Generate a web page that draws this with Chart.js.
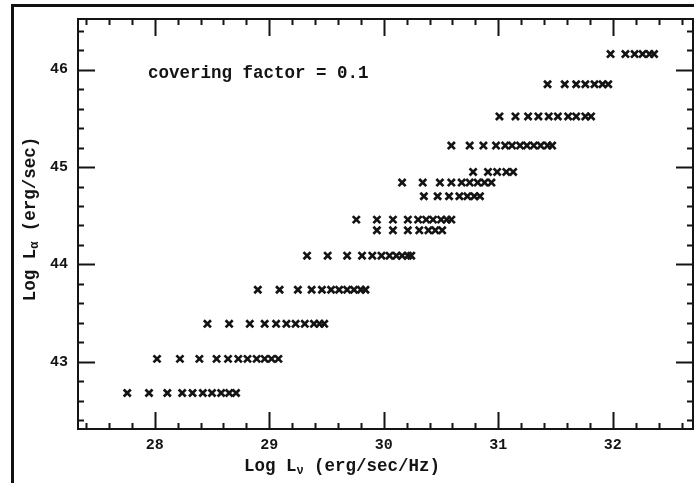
<!DOCTYPE html>
<html>
<head>
<meta charset="utf-8">
<script src="https://cdn.jsdelivr.net/npm/chart.js@4"></script>
<style>
  html, body { margin:0; padding:0; background:#fff; }
  #wrap { width:694px; height:483px; }
</style>
</head>
<body>
<div id="wrap"><canvas id="lumChart" width="694" height="483"></canvas></div>
<script>
/* Log L_alpha vs Log L_nu, covering factor = 0.1 */

// axis ranges and tick labels
const xRange = [27.33, 32.70];
const yRange = [42.31, 46.52];
const xTicks = [28, 29, 30, 31, 32];
const yTicks = [43, 44, 45, 46];

// each row of crosses: one log L_alpha level, many log L_nu values
const rowY = [42.68, 43.03, 43.39, 43.74, 44.09, 44.46, 44.35, 44.70, 44.84, 44.95, 45.22, 45.52, 45.85, 46.16];

const row1X  = [27.76, 27.95, 28.11, 28.24, 28.33, 28.42, 28.50, 28.58, 28.65, 28.71];
const row2X  = [28.02, 28.22, 28.39, 28.54, 28.64, 28.73, 28.81, 28.89, 28.96, 29.02, 29.08];
const row3X  = [28.46, 28.65, 28.83, 28.96, 29.06, 29.15, 29.23, 29.31, 29.39, 29.44, 29.48];
const row4X  = [28.90, 29.09, 29.25, 29.37, 29.46, 29.54, 29.61, 29.68, 29.74, 29.80, 29.84];
const row5X  = [29.33, 29.51, 29.68, 29.81, 29.90, 29.98, 30.05, 30.11, 30.16, 30.21, 30.24];
const row6X  = [29.76, 29.94, 30.08, 30.21, 30.30, 30.37, 30.43, 30.50, 30.55, 30.59];
const row7X  = [29.94, 30.08, 30.21, 30.31, 30.39, 30.45, 30.51];
const row8X  = [30.35, 30.47, 30.57, 30.66, 30.73, 30.79, 30.84];
const row9X  = [30.16, 30.34, 30.49, 30.59, 30.68, 30.75, 30.82, 30.88, 30.94];
const row10X = [30.78, 30.91, 30.99, 31.07, 31.13];
const row11X = [30.59, 30.75, 30.87, 30.98, 31.06, 31.12, 31.19, 31.25, 31.31, 31.37, 31.43, 31.47];
const row12X = [31.01, 31.15, 31.26, 31.35, 31.44, 31.52, 31.61, 31.68, 31.76, 31.81];
const row13X = [31.43, 31.58, 31.68, 31.76, 31.84, 31.91, 31.96];
const row14X = [31.98, 32.11, 32.19, 32.26, 32.32, 32.36];

const rowsX = [row1X, row2X, row3X, row4X, row5X, row6X, row7X,
               row8X, row9X, row10X, row11X, row12X, row13X, row14X];

const INK  = '#141414';
const FONT = '"Liberation Mono", "DejaVu Sans Mono", monospace';

const datasets = rowsX.map((xs, i) => ({
  label: 'row ' + (i + 1),
  data: xs.map(x => ({ x, y: rowY[i] })),
  showLine: false,
  pointStyle: 'crossRot',
  pointRadius: 5,
  pointHoverRadius: 5,
  pointBorderWidth: 2.7,
  borderColor: INK,
  backgroundColor: INK
}));

// frame, box, inward ticks, titles and label
const decorPlugin = {
  id: 'decor',
  beforeDraw(chart) {
    const ctx = chart.ctx;
    ctx.save();
    ctx.fillStyle = '#fff';
    ctx.fillRect(0, 0, chart.width, chart.height);
    // outer frame (top + left only, the rest is cropped)
    ctx.fillStyle = '#111';
    ctx.fillRect(12, 4, chart.width - 12, 3);
    ctx.fillRect(11, 4, 3, chart.height - 4);
    ctx.restore();
  },
  afterDraw(chart) {
    const { ctx, chartArea: a, scales } = chart;
    const xs = scales.x, ys = scales.y;
    ctx.save();
    ctx.strokeStyle = INK;
    ctx.lineWidth = 2;
    ctx.strokeRect(a.left, a.top, a.right - a.left, a.bottom - a.top);

    ctx.lineWidth = 2;
    ctx.beginPath();
    for (let i = Math.ceil(xRange[0] * 5); i <= Math.floor(xRange[1] * 5); i++) {
      const px = Math.round(xs.getPixelForValue(i / 5)) + 0.5;
      const len = i % 5 === 0 ? 17 : 6;
      ctx.moveTo(px, a.bottom); ctx.lineTo(px, a.bottom - len);
      ctx.moveTo(px, a.top);    ctx.lineTo(px, a.top + len);
    }
    for (let j = Math.ceil(yRange[0] * 5); j <= Math.floor(yRange[1] * 5); j++) {
      const py = Math.round(ys.getPixelForValue(j / 5)) + 0.5;
      const len = j % 5 === 0 ? 17 : 6;
      ctx.moveTo(a.left, py);  ctx.lineTo(a.left + len, py);
      ctx.moveTo(a.right, py); ctx.lineTo(a.right - len, py);
    }
    ctx.stroke();

    ctx.fillStyle = INK;
    ctx.textBaseline = 'alphabetic';

    // annotation
    ctx.font = 'bold 17.5px ' + FONT;
    ctx.textAlign = 'left';
    ctx.fillText('covering factor = 0.1', 148, 78);

    // axis title with a subscript
    function subTitle(pre, sub, post, cx, cy) {
      ctx.font = 'bold 17.5px ' + FONT;
      const w1 = ctx.measureText(pre).width;
      const w3 = ctx.measureText(post).width;
      ctx.font = 'bold 12px ' + FONT;
      const w2 = ctx.measureText(sub).width;
      let x = cx - (w1 + w2 + w3) / 2;
      ctx.font = 'bold 17.5px ' + FONT;
      ctx.fillText(pre, x, cy); x += w1;
      ctx.font = 'bold 12px ' + FONT;
      ctx.fillText(sub, x, cy + 3); x += w2;
      ctx.font = 'bold 17.5px ' + FONT;
      ctx.fillText(post, x, cy);
    }
    ctx.textAlign = 'left';
    subTitle('Log L', 'ν', ' (erg/sec/Hz)', 342, 471);

    ctx.translate(35, 219);
    ctx.rotate(-Math.PI / 2);
    subTitle('Log L', 'α', ' (erg/sec)', 0, 0);
    ctx.restore();
  }
};

new Chart(document.getElementById('lumChart'), {
  type: 'scatter',
  data: { datasets },
  options: {
    responsive: false,
    animation: false,
    layout: { autoPadding: false, padding: { top: 12, right: 1, left: 0, bottom: 0 } },
    plugins: { legend: { display: false }, tooltip: { enabled: false } },
    scales: {
      x: {
        type: 'linear', min: xRange[0], max: xRange[1],
        afterBuildTicks: s => { s.ticks = xTicks.map(v => ({ value: v })); },
        afterFit: s => { s.height = 54; },
        grid: { display: false, drawTicks: false },
        border: { display: false },
        ticks: { padding: 7, color: INK, font: { family: FONT, size: 15, weight: 'bold' } }
      },
      y: {
        type: 'linear', min: yRange[0], max: yRange[1],
        afterBuildTicks: s => { s.ticks = yTicks.map(v => ({ value: v })); },
        afterFit: s => { s.width = 78; },
        grid: { display: false, drawTicks: false },
        border: { display: false },
        ticks: { padding: 10, color: INK, font: { family: FONT, size: 15, weight: 'bold' } }
      }
    }
  },
  plugins: [decorPlugin]
});
</script>
</body>
</html>
